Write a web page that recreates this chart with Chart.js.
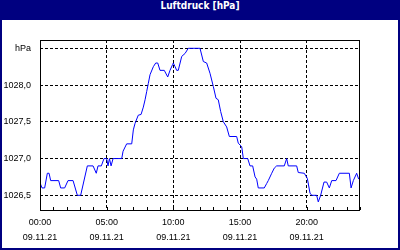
<!DOCTYPE html>
<html lang="de">
<head>
  <meta charset="UTF-8" />
  <title>Luftdruck</title>
  <script src="https://cdn.jsdelivr.net/npm/chart.js"></script>
  <style>
    html, body { margin: 0; padding: 0; background: #fff; }
    #frame { position: relative; width: 400px; height: 250px; background: #000080; overflow: hidden; }
    #title { position: absolute; left: 0; top: 0; width: 400px; height: 20px; line-height: 19px;
             text-align: center; color: #fff; font: bold 10px "DejaVu Sans Condensed", "DejaVu Sans", sans-serif; }
    #inner { position: absolute; left: 2px; top: 20px; width: 396px; height: 228px; background: #fff; }
    #wrap { position: absolute; left: 0; top: 0; width: 400px; height: 250px; }
  </style>
</head>
<body>
  <div id="frame">
    <div id="title">Luftdruck [hPa]</div>
    <div id="inner"></div>
    <div id="wrap"><canvas id="chart" width="400" height="250"></canvas></div>
  </div>

  <script>
    // hours since 00:00 on 09.11.21
    const hours = [0.00, 0.15, 0.35, 0.55, 0.68, 0.80, 1.40, 1.55, 1.85, 2.10, 2.48, 2.80, 3.05, 3.55, 3.98,
      4.22, 4.35, 4.60, 4.80, 5.00, 5.10, 5.21, 5.33, 5.48, 5.63, 6.13, 6.23, 6.50, 6.88, 7.00, 7.13, 7.37,
      7.58, 7.75, 7.88, 8.00, 8.12, 8.25, 8.50, 8.68, 8.83, 9.00, 9.32, 9.58, 9.75, 9.95, 10.00, 10.13,
      10.25, 10.37, 10.63, 10.88, 11.12, 12.00, 12.25, 12.50, 12.75, 13.00, 13.20, 13.37, 13.55, 13.75,
      14.00, 14.20, 14.75, 14.87, 15.13, 15.25, 15.58, 15.75, 15.95, 16.13, 16.25, 16.37, 16.82, 17.00,
      17.12, 17.38, 17.57, 17.75, 18.32, 18.50, 18.62, 19.25, 19.37, 19.82, 20.05, 20.25, 20.38, 20.75,
      20.87, 21.05, 21.30, 21.50, 21.70, 21.88, 22.20, 22.45, 23.20, 23.33, 23.50, 23.75, 23.90];
    const pressure = [1026.67, 1026.60, 1026.60, 1026.80, 1026.80, 1026.70, 1026.70, 1026.60, 1026.60,
      1026.70, 1026.70, 1026.50, 1026.50, 1026.90, 1026.90, 1026.80, 1026.90, 1026.90, 1027.00, 1027.00,
      1026.90, 1027.00, 1026.90, 1027.00, 1027.00, 1027.00, 1027.10, 1027.20, 1027.20, 1027.39, 1027.48,
      1027.59, 1027.60, 1027.70, 1027.80, 1027.91, 1028.02, 1028.14, 1028.25, 1028.30, 1028.30, 1028.20,
      1028.20, 1028.11, 1028.20, 1028.28, 1028.30, 1028.25, 1028.20, 1028.20, 1028.39, 1028.43, 1028.50,
      1028.50, 1028.32, 1028.30, 1028.16, 1027.98, 1027.82, 1027.80, 1027.64, 1027.50, 1027.43, 1027.30,
      1027.30, 1027.21, 1027.16, 1027.00, 1027.00, 1026.90, 1026.90, 1026.75, 1026.72, 1026.60, 1026.60,
      1026.66, 1026.70, 1026.80, 1026.87, 1026.90, 1026.90, 1027.00, 1026.90, 1026.90, 1026.81, 1026.80,
      1026.73, 1026.53, 1026.50, 1026.50, 1026.41, 1026.50, 1026.68, 1026.68, 1026.60, 1026.70, 1026.70,
      1026.80, 1026.80, 1026.60, 1026.70, 1026.80, 1026.72];

    const yTickValues = [1026.5, 1027.0, 1027.5, 1028.0, 1028.5];
    const yTickLabels = ["1026,5", "1027,0", "1027,5", "1028,0", "hPa"];
    const xTickValues = [0, 5, 10, 15, 20];
    const xTickLabels = [["00:00", "09.11.21"], ["05:00", "09.11.21"], ["10:00", "09.11.21"],
      ["15:00", "09.11.21"], ["20:00", "09.11.21"]];

    const tickFont = { family: "'Liberation Sans', Arial, sans-serif", size: 9 };

    // plot frame + small hourly ticks on the bottom axis
    const framePlugin = {
      id: "frame",
      afterDraw(chart) {
        const { ctx, chartArea: a, scales } = chart;
        ctx.save();
        ctx.setLineDash([]);
        ctx.strokeStyle = "#000";
        ctx.lineWidth = 1;
        ctx.strokeRect(a.left + 0.5, a.top + 0.5, a.right - a.left - 1, a.bottom - a.top);
        ctx.beginPath();
        for (let h = 0; h <= 24; h++) {
          const px = Math.round(scales.x.getPixelForValue(h)) + 0.5;
          ctx.moveTo(px, a.bottom);
          ctx.lineTo(px, a.bottom - 3);
        }
        ctx.stroke();
        ctx.restore();
      }
    };

    new Chart(document.getElementById("chart"), {
      type: "line",
      data: {
        datasets: [{
          data: hours.map((h, i) => ({ x: h, y: pressure[i] })),
          borderColor: "#0000ff",
          borderWidth: 1,
          pointRadius: 0,
          tension: 0,
          fill: false
        }]
      },
      options: {
        responsive: false,
        animation: false,
        events: [],
        layout: { padding: { top: 40, right: 40, left: 0, bottom: 0 } },
        plugins: { legend: { display: false }, tooltip: { enabled: false } },
        scales: {
          x: {
            type: "linear",
            min: 0,
            max: 24,
            afterFit(scale) { scale.height = 40; },
            afterBuildTicks(scale) { scale.ticks = xTickValues.map(v => ({ value: v })); },
            ticks: {
              color: "#000",
              font: { ...tickFont, lineHeight: 15 / 9 },
              padding: 5,
              maxRotation: 0,
              autoSkip: false,
              callback: (v) => xTickLabels[xTickValues.indexOf(v)]
            },
            grid: { color: "#000", lineWidth: 1, drawTicks: false },
            border: { display: false, dash: [3, 2] }
          },
          y: {
            min: 1026.3,
            max: 1028.613,
            afterFit(scale) { scale.width = 40; },
            afterBuildTicks(scale) { scale.ticks = yTickValues.map(v => ({ value: v })); },
            ticks: {
              color: "#000",
              font: tickFont,
              padding: 9,
              autoSkip: false,
              callback: (v) => yTickLabels[yTickValues.indexOf(v)]
            },
            grid: { color: "#000", lineWidth: 1, drawTicks: false },
            border: { display: false, dash: [3, 2] }
          }
        }
      },
      plugins: [framePlugin]
    });
  </script>
</body>
</html>
